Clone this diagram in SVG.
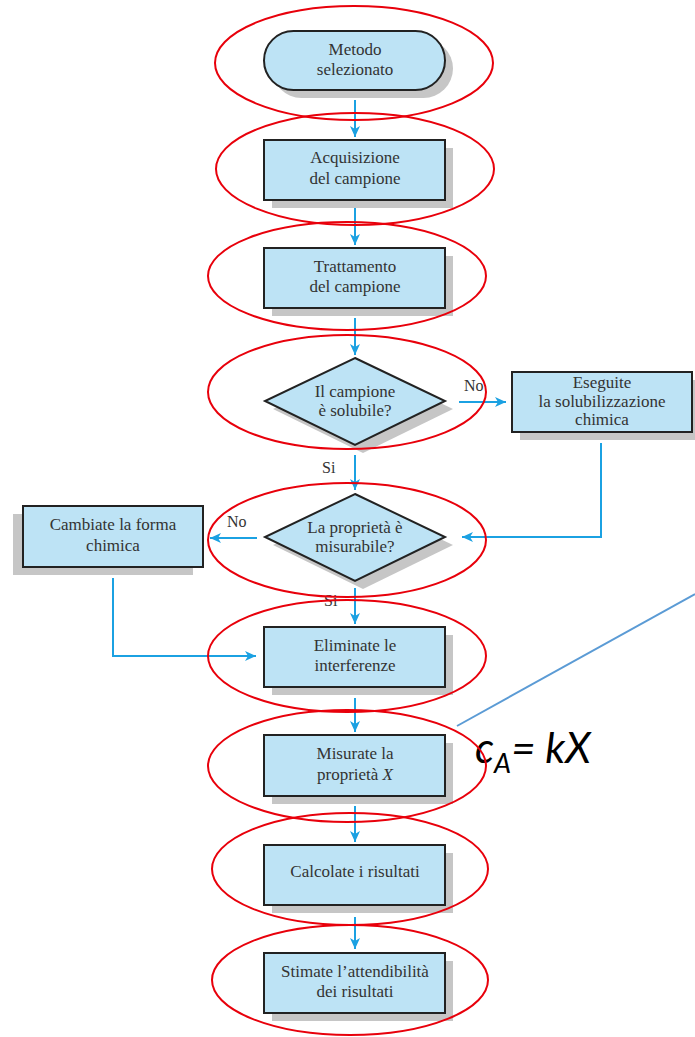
<svg xmlns="http://www.w3.org/2000/svg" width="695" height="1037" viewBox="0 0 695 1037">
<defs>
<style>
.box{fill:#bde3f5;stroke:#222;stroke-width:2}
.sh{fill:#c6c6c6}
.t{font-family:"Liberation Serif",serif;font-size:17px;fill:#333;text-anchor:middle}
.lbl{font-family:"Liberation Serif",serif;font-size:16px;fill:#333}
.c{fill:none;stroke:#1ba1e2;stroke-width:2}
.ring{fill:none;stroke:#e8000b;stroke-width:2}
</style>
<marker id="ah" markerUnits="userSpaceOnUse" markerWidth="12" markerHeight="10" refX="11" refY="5" orient="auto">
<path d="M0,0 L11,5 L0,10 L3,5 Z" fill="#1ba1e2"/>
</marker>
</defs>
<rect width="695" height="1037" fill="#fff"/>

<g id="n1">
<rect class="sh" x="272" y="39" width="181" height="59" rx="29.5"/>
<rect class="box" x="264" y="31" width="181" height="59" rx="29.5"/>
<text class="t" x="355" y="55">Metodo</text>
<text class="t" x="355" y="75">selezionato</text>
</g>
<g id="n2">
<rect class="sh" x="272" y="148" width="181" height="60"/>
<rect class="box" x="264" y="140" width="181" height="60"/>
<text class="t" x="355" y="163">Acquisizione</text>
<text class="t" x="355" y="184">del campione</text>
</g>
<g id="n3">
<rect class="sh" x="272" y="256" width="181" height="60"/>
<rect class="box" x="264" y="248" width="181" height="60"/>
<text class="t" x="355" y="272">Trattamento</text>
<text class="t" x="355" y="292">del campione</text>
</g>
<g id="d1">
<polygon class="sh" points="363,366 453,409 363,453 273,409"/>
<polygon class="box" points="355,358 445,401 355,445 265,401"/>
<text class="t" x="355" y="397">Il campione</text>
<text class="t" x="355" y="416">è solubile?</text>
</g>
<g id="n4">
<rect class="sh" x="520" y="380" width="180" height="60"/>
<rect class="box" x="512" y="372" width="180" height="60"/>
<text class="t" x="602" y="388">Eseguite</text>
<text class="t" x="602" y="407">la solubilizzazione</text>
<text class="t" x="602" y="425">chimica</text>
</g>
<g id="d2">
<polygon class="sh" points="363,502 453,545 363,589 273,545"/>
<polygon class="box" points="355,494 445,537 355,581 265,537"/>
<text class="t" x="355" y="533">La proprietà è</text>
<text class="t" x="355" y="552">misurabile?</text>
</g>
<g id="n5">
<rect class="sh" x="13" y="514" width="180" height="61"/>
<rect class="box" x="23" y="506" width="180" height="61"/>
<text class="t" x="113" y="530">Cambiate la forma</text>
<text class="t" x="113" y="551">chimica</text>
</g>
<g id="n6">
<rect class="sh" x="272" y="635" width="181" height="60"/>
<rect class="box" x="264" y="627" width="181" height="60"/>
<text class="t" x="355" y="651">Eliminate le</text>
<text class="t" x="355" y="671">interferenze</text>
</g>
<g id="n7">
<rect class="sh" x="272" y="743" width="181" height="61"/>
<rect class="box" x="264" y="735" width="181" height="61"/>
<text class="t" x="355" y="759">Misurate la</text>
<text class="t" x="355" y="780">proprietà <tspan font-style="italic">X</tspan></text>
</g>
<g id="n8">
<rect class="sh" x="272" y="853" width="181" height="60"/>
<rect class="box" x="264" y="845" width="181" height="60"/>
<text class="t" x="355" y="877">Calcolate i risultati</text>
</g>
<g id="n9">
<rect class="sh" x="272" y="961" width="181" height="60"/>
<rect class="box" x="264" y="953" width="181" height="60"/>
<text class="t" x="355" y="977">Stimate l’attendibilità</text>
<text class="t" x="355" y="997">dei risultati</text>
</g>

<g id="connectors">
<line class="c" x1="355" y1="100" x2="355" y2="137" marker-end="url(#ah)"/>
<line class="c" x1="355" y1="208" x2="355" y2="245" marker-end="url(#ah)"/>
<line class="c" x1="355" y1="318" x2="355" y2="355" marker-end="url(#ah)"/>
<line class="c" x1="459" y1="402" x2="506" y2="402" marker-end="url(#ah)"/>
<line class="c" x1="355" y1="455" x2="355" y2="490" marker-end="url(#ah)"/>
<polyline class="c" points="601,443 601,537 462,537" marker-end="url(#ah)"/>
<line class="c" x1="257" y1="538" x2="210" y2="538" marker-end="url(#ah)"/>
<polyline class="c" points="113,578 113,656 256,656" marker-end="url(#ah)"/>
<line class="c" x1="355" y1="588" x2="355" y2="624" marker-end="url(#ah)"/>
<line class="c" x1="355" y1="698" x2="355" y2="732" marker-end="url(#ah)"/>
<line class="c" x1="355" y1="806" x2="355" y2="842" marker-end="url(#ah)"/>
<line class="c" x1="355" y1="917" x2="355" y2="949" marker-end="url(#ah)"/>
<line x1="457" y1="726" x2="695" y2="594" stroke="#5b9bd5" stroke-width="2"/>
</g>

<g id="labels">
<text class="lbl" x="464" y="391">No</text>
<text class="lbl" x="322" y="473">Si</text>
<text class="lbl" x="227" y="527">No</text>
<text class="lbl" x="324" y="606">Si</text>
</g>

<g id="formula">
<text x="475" y="763" font-family="Lato, 'Open Sans', sans-serif" font-style="italic" font-size="42" fill="#000">c<tspan font-size="27" dy="10">A</tspan><tspan dy="-10">= kX</tspan></text>
</g>

<g id="rings">
<ellipse class="ring" cx="354" cy="63" rx="139" ry="57"/>
<ellipse class="ring" cx="355" cy="169" rx="139" ry="56"/>
<ellipse class="ring" cx="347" cy="276" rx="139" ry="54"/>
<ellipse class="ring" cx="347" cy="392" rx="139" ry="57"/>
<ellipse class="ring" cx="347" cy="540" rx="139" ry="57"/>
<ellipse class="ring" cx="347" cy="656" rx="139" ry="56"/>
<ellipse class="ring" cx="347" cy="766" rx="139" ry="56"/>
<ellipse class="ring" cx="350" cy="869" rx="138" ry="56"/>
<ellipse class="ring" cx="350" cy="980" rx="138" ry="55"/>
</g>
</svg>
